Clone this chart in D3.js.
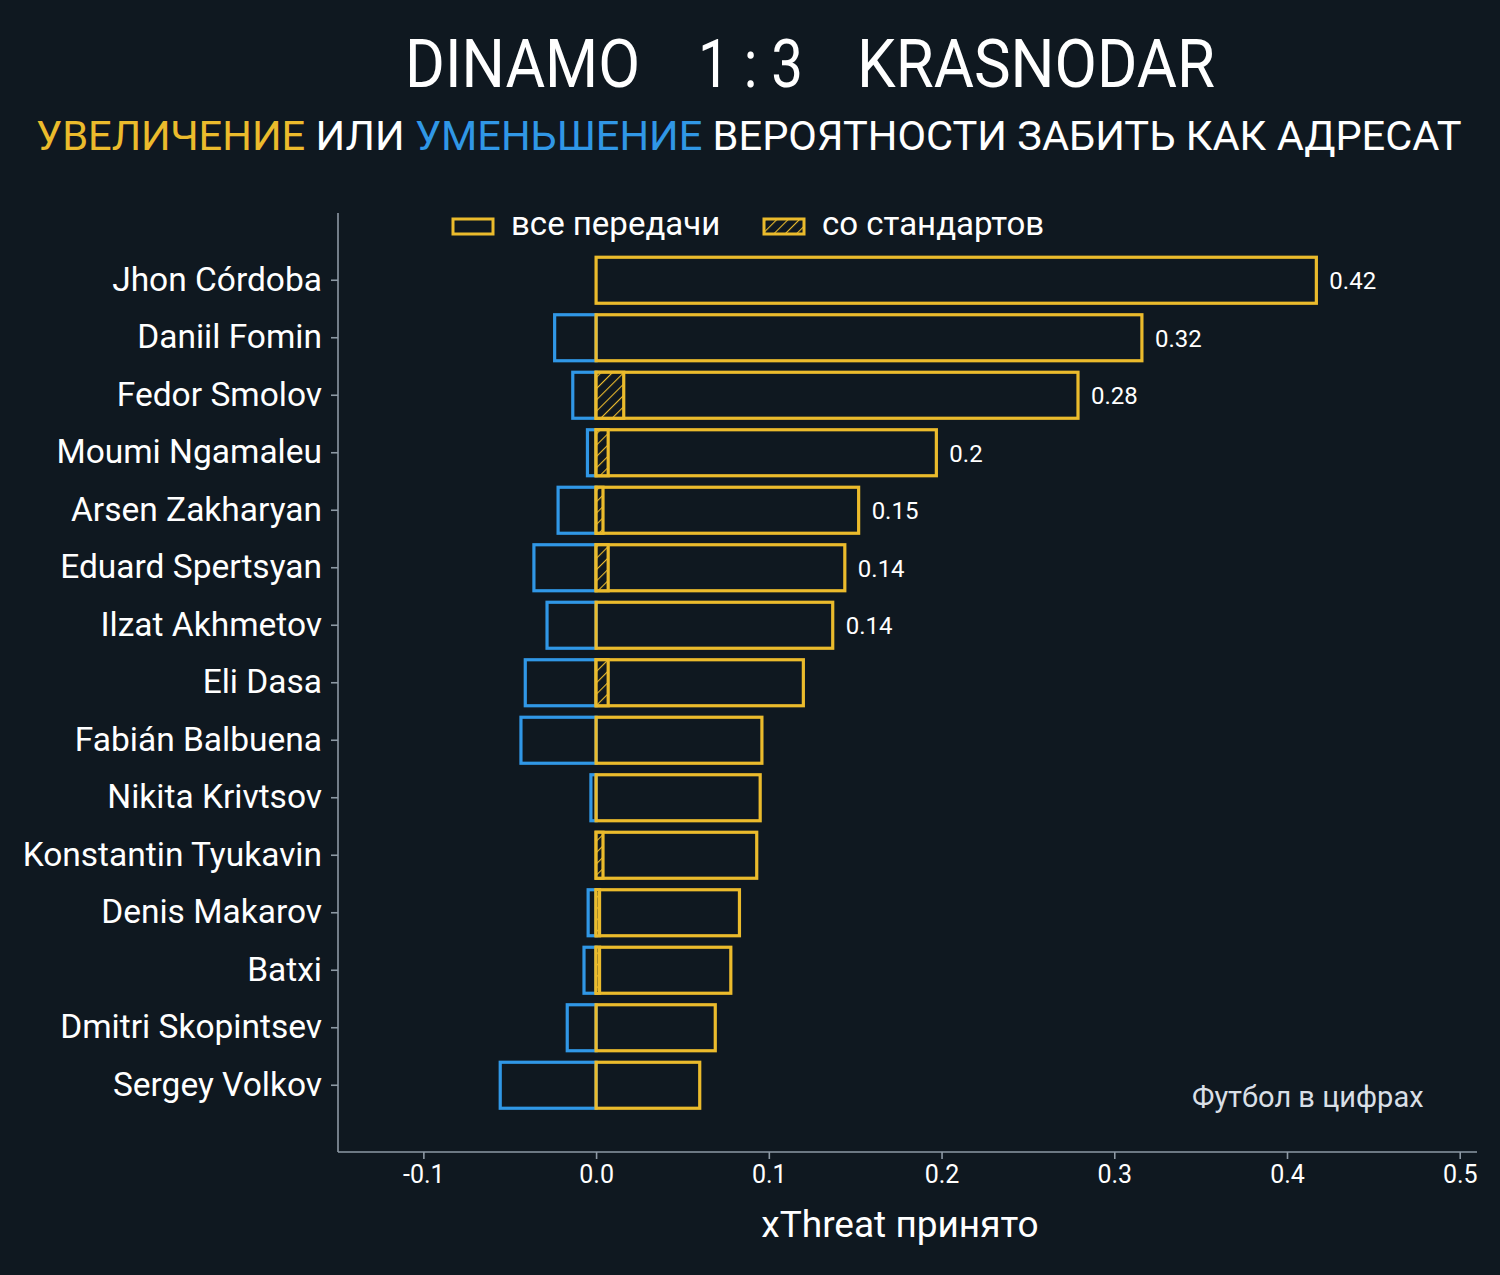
<!DOCTYPE html>
<html><head><meta charset="utf-8">
<script src="https://cdn.jsdelivr.net/npm/d3@7"></script>
<style>
html,body{margin:0;padding:0;background:#0f1820;}
svg{display:block;}
text{font-family:Roboto,"Noto Sans",sans-serif;}
</style></head>
<body><svg id="c" width="1500" height="1275"></svg>
<script>
const players = ["Jhon Córdoba","Daniil Fomin","Fedor Smolov","Moumi Ngamaleu","Arsen Zakharyan","Eduard Spertsyan","Ilzat Akhmetov","Eli Dasa","Fabián Balbuena","Nikita Krivtsov","Konstantin Tyukavin","Denis Makarov","Batxi","Dmitri Skopintsev","Sergey Volkov"];
const allPasses = [0.417,0.316,0.279,0.197,0.152,0.144,0.137,0.120,0.096,0.095,0.093,0.083,0.078,0.069,0.060];
const setPieces = [0,0,0.016,0.007,0.004,0.007,0,0.007,0,0,0.004,0.002,0.002,0,0];
const decrease = [0,-0.024,-0.0135,-0.005,-0.022,-0.036,-0.0284,-0.041,-0.0435,-0.003,0,-0.0046,-0.007,-0.0167,-0.0555];
const xTicks = [-0.1,0.0,0.1,0.2,0.3,0.4,0.5];
const xTickLabels = ["-0.1","0.0","0.1","0.2","0.3","0.4","0.5"];
const legendLabels = ["все передачи","со стандартов"];
const titleParts = ["DINAMO","1 : 3","KRASNODAR"];
const subtitleParts = [["УВЕЛИЧЕНИЕ","inc"],[" ИЛИ ","w"],["УМЕНЬШЕНИЕ","dec"],[" ВЕРОЯТНОСТИ ЗАБИТЬ КАК АДРЕСАТ","w"]];
const xLabel = "xThreat принято";
const watermark = "Футбол в цифрах";
const labelThreshold = 0.13;

const YEL = "#ebbb2c", BLUE = "#3097e6", BG = "#0f1820", SPINE = "#8d99a4", WHITE = "#ffffff";
const svg = d3.select("#c");
svg.append("rect").attr("width",1500).attr("height",1275).attr("fill",BG);

const defs = svg.append("defs");
const pat = defs.append("pattern").attr("id","hatch").attr("patternUnits","userSpaceOnUse")
  .attr("width",8).attr("height",8).attr("patternTransform","rotate(45)");
pat.append("rect").attr("width",8).attr("height",8).attr("fill",BG);
pat.append("line").attr("x1",0).attr("y1",0).attr("x2",0).attr("y2",8).attr("stroke",YEL).attr("stroke-width",2.2);

const x = d3.scaleLinear().domain([-0.15,0.51]).range([337,1477]);
const y = d3.scaleBand().domain(players).range([251.5,1114]).paddingInner(0.2).paddingOuter(0.1);

// fit a text element horizontally by adjusting its font size
function fitWidth(sel, target) {
  const w = sel.node().getComputedTextLength();
  const fs = +sel.attr("font-size");
  if (w > 0) sel.attr("font-size", (fs * target / w).toFixed(2));
}

// titles
const tY = 87;
svg.append("text").attr("x",405).attr("y",tY).attr("fill",WHITE).attr("font-size",66)
  .attr("textLength",235).attr("lengthAdjust","spacingAndGlyphs").text(titleParts[0]);
svg.append("text").attr("x",698).attr("y",tY).attr("fill",WHITE).attr("font-size",66)
  .attr("textLength",105).attr("lengthAdjust","spacingAndGlyphs").text(titleParts[1]);
svg.append("text").attr("x",857).attr("y",tY).attr("fill",WHITE).attr("font-size",66)
  .attr("textLength",358).attr("lengthAdjust","spacingAndGlyphs").text(titleParts[2]);

const sub = svg.append("text").attr("x",36).attr("y",150).attr("font-size",45).attr("xml:space","preserve");
subtitleParts.forEach(([t,k])=>{
  sub.append("tspan").attr("fill", k==="inc"?YEL:(k==="dec"?BLUE:WHITE)).text(t);
});
fitWidth(sub, 1426);

// spines
svg.append("line").attr("x1",338).attr("x2",338).attr("y1",213).attr("y2",1152).attr("stroke",SPINE).attr("stroke-width",1.6);
svg.append("line").attr("x1",338).attr("x2",1477).attr("y1",1152).attr("y2",1152).attr("stroke",SPINE).attr("stroke-width",1.6);

// x axis
const xa = svg.append("g").attr("transform","translate(0,1152)")
  .call(d3.axisBottom(x).tickValues(xTicks).tickFormat((d,i)=>xTickLabels[i]).tickSize(7).tickPadding(6));
xa.select(".domain").remove();
xa.selectAll(".tick line").attr("stroke",SPINE).attr("stroke-width",1.6);
xa.selectAll(".tick text").attr("fill",WHITE).attr("font-size",25).attr("font-family","Roboto");

// y axis
const ya = svg.append("g").attr("transform","translate(338,0)")
  .call(d3.axisLeft(y).tickSize(7).tickPadding(9));
ya.select(".domain").remove();
ya.selectAll(".tick line").attr("stroke",SPINE).attr("stroke-width",1.6);
ya.selectAll(".tick text").attr("fill",WHITE).attr("font-size",33.5).attr("font-family","Roboto");

// bars
const bw = y.bandwidth();
const g = svg.append("g");
players.forEach((p,i)=>{
  const yy = y(p);
  if (decrease[i] < 0) {
    g.append("rect").attr("x",x(decrease[i])).attr("y",yy).attr("width",x(0)-x(decrease[i])).attr("height",bw)
      .attr("fill","none").attr("stroke",BLUE).attr("stroke-width",3.2);
  }
  g.append("rect").attr("x",x(0)).attr("y",yy).attr("width",x(allPasses[i])-x(0)).attr("height",bw)
    .attr("fill","none").attr("stroke",YEL).attr("stroke-width",3.2);
  if (setPieces[i] > 0) {
    g.append("rect").attr("x",x(0)).attr("y",yy).attr("width",x(setPieces[i])-x(0)).attr("height",bw)
      .attr("fill","url(#hatch)").attr("stroke",YEL).attr("stroke-width",3.2);
  }
  if (allPasses[i] >= labelThreshold) {
    g.append("text").attr("x",x(allPasses[i])+13).attr("y",yy+bw/2).attr("dy","0.38em")
      .attr("fill",WHITE).attr("font-size",24).text(String(+allPasses[i].toFixed(2)));
  }
});

// legend
svg.append("rect").attr("x",453).attr("y",219).attr("width",40).attr("height",15).attr("fill","none").attr("stroke",YEL).attr("stroke-width",3);
svg.append("text").attr("x",511).attr("y",235).attr("fill",WHITE).attr("font-size",33).text(legendLabels[0]);
svg.append("rect").attr("x",764).attr("y",219).attr("width",40).attr("height",15).attr("fill","url(#hatch)").attr("stroke",YEL).attr("stroke-width",3);
svg.append("text").attr("x",822).attr("y",235).attr("fill",WHITE).attr("font-size",33).text(legendLabels[1]);

// x label
svg.append("text").attr("x",900).attr("y",1237).attr("text-anchor","middle").attr("fill",WHITE).attr("font-size",37).text(xLabel);

// watermark
svg.append("text").attr("x",1192).attr("y",1107).attr("fill","#d9dfe6").attr("font-size",29).text(watermark);
</script></body></html>
